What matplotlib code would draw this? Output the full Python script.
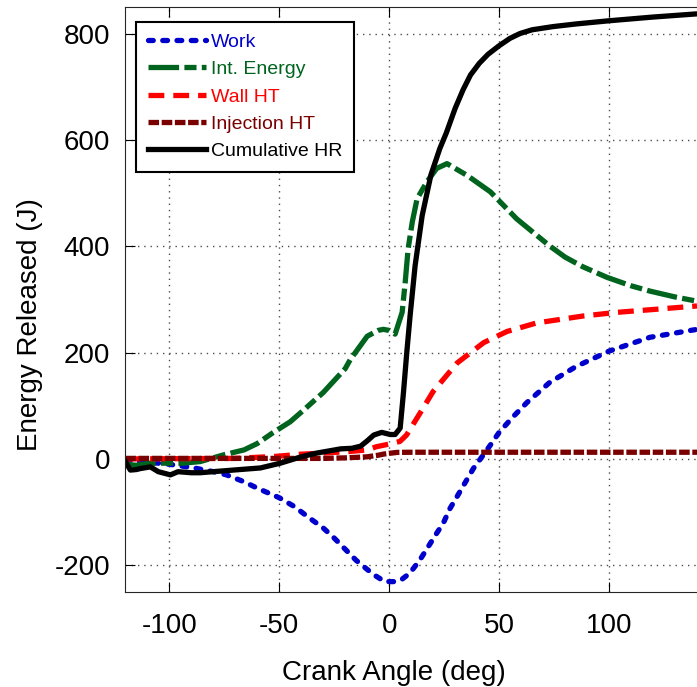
import matplotlib
matplotlib.use("Agg")
import matplotlib.pyplot as plt

plt.rcParams['font.family'] = ['Liberation Sans', 'DejaVu Sans']
plt.rcParams['axes.unicode_minus'] = False

# ---------------- data ----------------
work_x = [-120, -110, -100, -90, -80, -74, -66, -60, -50, -43, -37, -30, -25, -20, -15,
          -10, -7, -2, 3, 6, 9.4, 14, 17.8, 21.6, 24.6, 27.7, 31, 34.5, 38.3, 42.9,
          46.7, 50, 56.5, 62.6, 73, 85, 100, 118.6, 140]
work_y = [-3, -6, -10, -16, -24, -30, -43, -55, -73, -90, -109, -130, -149, -170, -191,
          -208, -218, -231, -231, -226, -215, -190, -165, -140, -121, -93, -70, -45, -18, 8,
          30, 50, 80, 106, 144, 174, 203, 229, 244]

ie_x = [-120, -115, -109, -94, -86, -75, -66, -60, -53, -45, -40, -30, -20, -17.7, -10,
        -5, -2.7, 0, 2.7, 5.9, 7.3, 8.6, 10.5, 12.7, 17.2, 21.6, 26.3, 35.4, 46, 58,
        73, 80, 88, 99, 110, 118.6, 130, 140]
ie_y = [-10, -12, -8, -8, -5, 8, 17, 29, 49, 70, 88, 125, 170, 187, 231,
        242, 244, 242, 235, 276, 333, 395, 446, 490, 522, 547, 556, 534, 503, 452,
        401, 380, 362, 342, 326, 316, 305, 297]

wall_x = [-120, -70, -51, -40, -30, -18, -10, -5.8, 0, 4.9, 7.9, 14, 20, 31, 43,
          53.6, 67, 88, 103.6, 122, 140]
wall_y = [0, 1, 5, 9, 11, 14, 17, 23, 28, 33, 45, 86, 127, 181, 219,
          240, 256, 269, 276, 282, 288]

inj_x = [-120, -30, -20, -10, -5, -2.7, 0, 3.6, 10, 140]
inj_y = [1, 1, 2, 4, 7, 9, 10.5, 12.3, 12.6, 12.6]

hr_x = [-120, -117.7, -115, -113, -108.6, -105, -99.5, -96, -90, -86, -71, -58.6, -49.5,
        -40, -33, -22, -17, -13, -10, -7, -3.4, 0.5, 2.7, 5, 6.5, 8, 9.5, 11.8, 15,
        19, 23, 26, 30, 33.6, 37, 41, 45, 50, 55, 59.5, 65, 74.5, 85, 100, 120, 140]
hr_y = [-5, -21, -20, -18, -15, -24, -30, -24, -26, -26, -21, -17, -8,
        4, 11, 19, 20, 24, 34, 45, 50, 46, 46, 58, 125, 200, 269, 364, 458,
        535, 584, 614, 660, 695, 723, 745, 762, 778, 792, 801, 808, 814, 819, 825, 832, 838]

labels = ['Work', 'Int. Energy', 'Wall HT', 'Injection HT', 'Cumulative HR']
colors = ['#0000CD', '#00641E', '#FF0000', '#7A0000', '#000000']
xticks = [-100, -50, 0, 50, 100]
yticks = [-200, 0, 200, 400, 600, 800]

# ---------------- figure ----------------
fig = plt.figure(figsize=(6.97, 6.87), dpi=100)
ax = fig.add_axes([0.1798, 0.1387, 1 - 0.1798, 0.9891 - 0.1387])

lw = 3.8
ax.plot(work_x, work_y, color=colors[0], lw=lw, dashes=(0.9, 1.8),
        dash_capstyle='round', label=labels[0])
ax.plot(ie_x, ie_y, color=colors[1], lw=lw, dashes=(5.8, 1.0, 2.3, 1.0),
        label=labels[1])
ax.plot(wall_x, wall_y, color=colors[2], lw=lw, dashes=(3.0, 1.7), label=labels[2])
ax.plot(inj_x, inj_y, color=colors[3], lw=lw, dashes=(2.0, 0.5), label=labels[3])
ax.plot(hr_x, hr_y, color=colors[4], lw=lw, solid_joinstyle='round', label=labels[4])

ax.set_xlim(-120, 140)
ax.set_ylim(-250, 850)
ax.set_xticks(xticks)
ax.set_yticks(yticks)

ax.set_axisbelow(True)
ax.grid(True, linestyle=(0, (1, 3.5)), color='0.3', linewidth=1.0)

ax.tick_params(direction='in', length=7.5, width=0.8, top=True, right=False,
               labelsize=20)
ax.tick_params(axis='x', pad=15)
ax.tick_params(axis='y', pad=11)

ax.spines['right'].set_visible(False)
for s in ['left', 'bottom', 'top']:
    ax.spines[s].set_color('0.15')
    ax.spines[s].set_linewidth(0.8)

ax.set_xlabel('Crank Angle (deg)', fontsize=20)
ax.set_ylabel('Energy Released (J)', fontsize=20)
ax.xaxis.set_label_coords(0.4705, -0.1169)
ax.yaxis.set_label_coords(-0.1448, 0.4565)

leg = ax.legend(loc='upper left', bbox_to_anchor=(0.0187, 0.9757), borderaxespad=0,
                fontsize=14, handlelength=3.0, handletextpad=0.25, labelspacing=0.5,
                borderpad=0.6, fancybox=False, framealpha=1, edgecolor='black')
leg.get_frame().set_linewidth(1.5)
for txt, c in zip(leg.get_texts(), colors):
    txt.set_color(c)

fig.savefig('out.png', dpi=100)
